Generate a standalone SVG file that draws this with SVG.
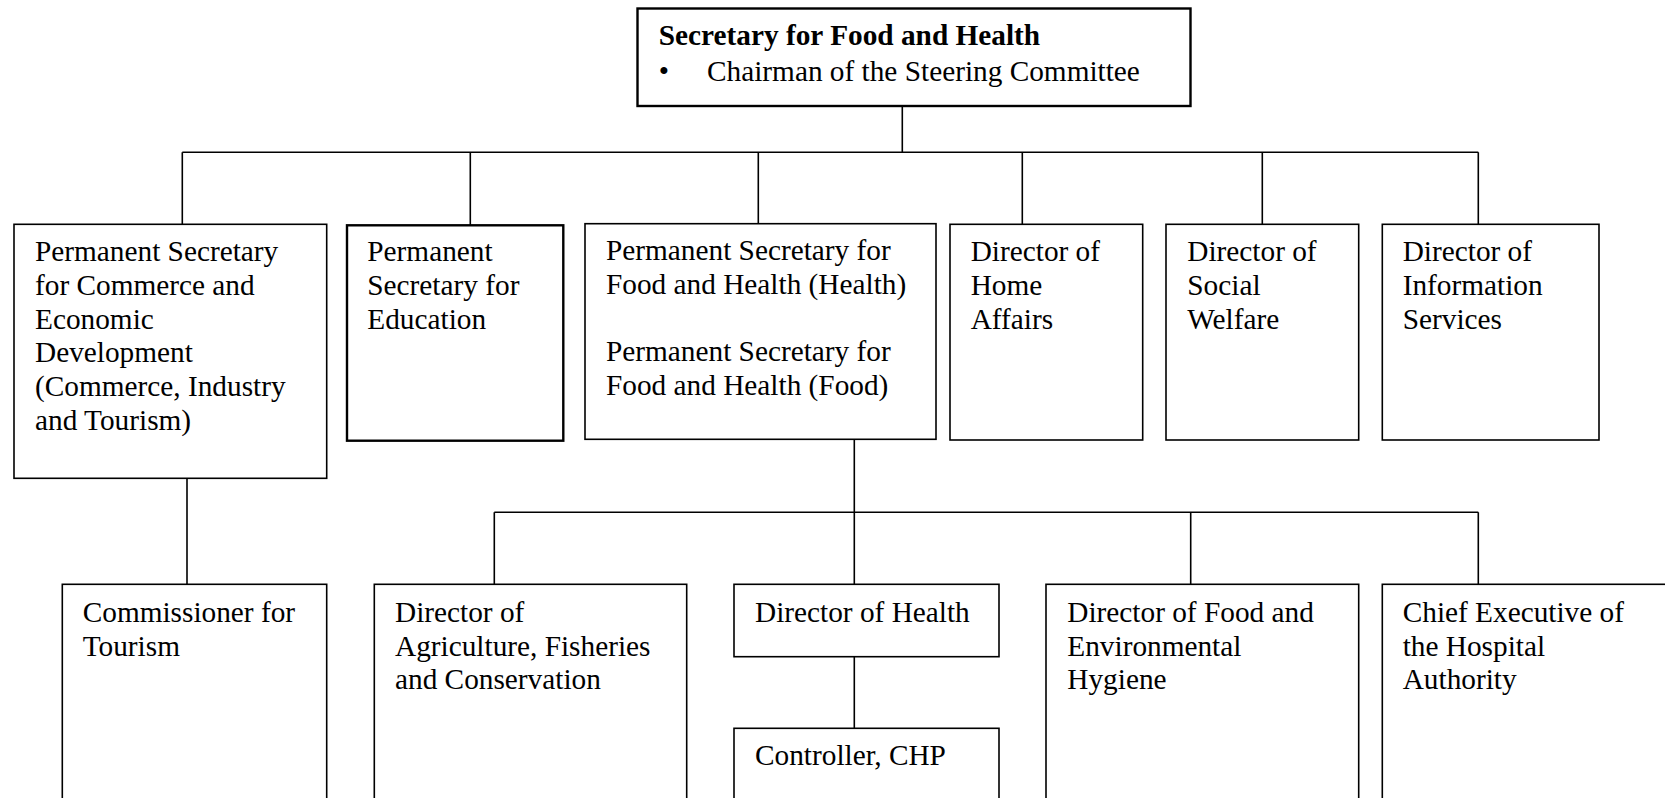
<svg xmlns="http://www.w3.org/2000/svg" width="1665" height="798" viewBox="0 0 1665 798">
<style>
.box{fill:#fff;stroke:#000;stroke-width:1.6}
.thick{stroke-width:2.4}
.ln{fill:none;stroke:#000;stroke-width:1.6}
text{font-family:"Liberation Serif","Times New Roman",serif;font-size:29.3px;fill:#000}
.b{font-weight:bold}
</style>
<rect width="1665" height="798" fill="#fff"/>
<g id="connectors">
<path class="ln" d="M902.3,106 V152.3 M182.3,152.3 H1478.3 M182.3,152.3 V224.3 M470.3,152.3 V225.3 M758.3,152.3 V223.7 M1022.3,152.3 V224.3 M1262.3,152.3 V224.3 M1478.3,152.3 V224.3"/>
<path class="ln" d="M187,478.3 V584.3 M854.3,439.3 V584.3 M494.3,512.3 H1478.3 M494.3,512.3 V584.3 M1190.7,512.3 V584.3 M1478.3,512.3 V584.3 M854.3,656.7 V728.3"/>
</g>
<g id="sfh">
<rect class="box thick" x="637.5" y="8.5" width="553" height="97.5"/>
<text class="b" x="658.8" y="44.5">Secretary for Food and Health</text>
<text x="658.8" y="80.5">•</text>
<text x="707" y="80.5">Chairman of the Steering Committee</text>
</g>
<g id="ps_ced">
<rect class="box" x="14" y="224.3" width="312.7" height="254"/>
<text x="35" y="261"><tspan x="35">Permanent Secretary</tspan><tspan x="35" dy="33.8">for Commerce and</tspan><tspan x="35" dy="33.8">Economic</tspan><tspan x="35" dy="33.8">Development</tspan><tspan x="35" dy="33.8">(Commerce, Industry</tspan><tspan x="35" dy="33.8">and Tourism)</tspan></text>
</g>
<g id="ps_edu">
<rect class="box thick" x="347" y="225.3" width="216.3" height="215.4"/>
<text x="367.3" y="261"><tspan x="367.3">Permanent</tspan><tspan x="367.3" dy="33.8">Secretary for</tspan><tspan x="367.3" dy="33.8">Education</tspan></text>
</g>
<g id="ps_fh">
<rect class="box" x="585" y="223.7" width="351" height="215.6"/>
<text x="606" y="260"><tspan x="606">Permanent Secretary for</tspan><tspan x="606" dy="33.8">Food and Health (Health)</tspan><tspan x="606" dy="67.6">Permanent Secretary for</tspan><tspan x="606" dy="33.8">Food and Health (Food)</tspan></text>
</g>
<g id="dir_ha">
<rect class="box" x="950" y="224.3" width="192.7" height="215.7"/>
<text x="970.7" y="261"><tspan x="970.7">Director of</tspan><tspan x="970.7" dy="33.8">Home</tspan><tspan x="970.7" dy="33.8">Affairs</tspan></text>
</g>
<g id="dir_sw">
<rect class="box" x="1166" y="224.3" width="192.7" height="215.7"/>
<text x="1187.3" y="261"><tspan x="1187.3">Director of</tspan><tspan x="1187.3" dy="33.8">Social</tspan><tspan x="1187.3" dy="33.8">Welfare</tspan></text>
</g>
<g id="dir_is">
<rect class="box" x="1382.3" y="224.3" width="216.7" height="215.7"/>
<text x="1402.7" y="261"><tspan x="1402.7">Director of</tspan><tspan x="1402.7" dy="33.8">Information</tspan><tspan x="1402.7" dy="33.8">Services</tspan></text>
</g>
<g id="comm_t">
<rect class="box" x="62.3" y="584.3" width="264.4" height="240"/>
<text x="82.7" y="621.7"><tspan x="82.7">Commissioner for</tspan><tspan x="82.7" dy="33.8">Tourism</tspan></text>
</g>
<g id="dir_afc">
<rect class="box" x="374.3" y="584.3" width="312.4" height="240"/>
<text x="395" y="621.7"><tspan x="395">Director of</tspan><tspan x="395" dy="33.8">Agriculture, Fisheries</tspan><tspan x="395" dy="33.8">and Conservation</tspan></text>
</g>
<g id="dir_h">
<rect class="box" x="734" y="584.3" width="265" height="72.4"/>
<text x="755" y="621.7">Director of Health</text>
</g>
<g id="ctrl_chp">
<rect class="box" x="734" y="728.3" width="265" height="100"/>
<text x="755" y="765">Controller, CHP</text>
</g>
<g id="dir_feh">
<rect class="box" x="1046" y="584.3" width="312.7" height="240"/>
<text x="1067.3" y="621.7"><tspan x="1067.3">Director of Food and</tspan><tspan x="1067.3" dy="33.8">Environmental</tspan><tspan x="1067.3" dy="33.8">Hygiene</tspan></text>
</g>
<g id="ce_ha">
<rect class="box" x="1382.3" y="584.3" width="320" height="240"/>
<text x="1402.7" y="621.7"><tspan x="1402.7">Chief Executive of</tspan><tspan x="1402.7" dy="33.8">the Hospital</tspan><tspan x="1402.7" dy="33.8">Authority</tspan></text>
</g>
</svg>
